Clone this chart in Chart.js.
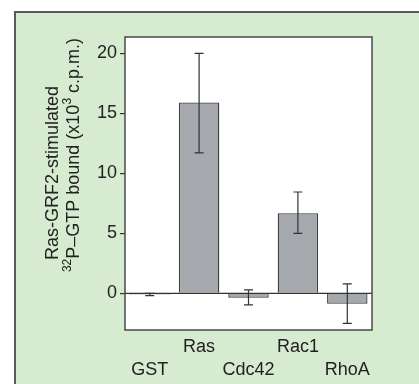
<!DOCTYPE html>
<html>
<head>
<meta charset="utf-8">
<script src="https://cdn.jsdelivr.net/npm/chart.js@4"></script>
<style>
  html, body { margin: 0; padding: 0; background: #ffffff; }
  #wrap { position: relative; width: 419px; height: 384px; overflow: hidden; }
  #panel { position: absolute; left: 14px; top: 11px; right: 0; bottom: 0;
           background: #d7ebd0; border-left: 2px solid #5a5a5a; border-top: 2px solid #5a5a5a; }
  #chart { position: absolute; left: 0; top: 0; }
</style>
</head>
<body>
<div id="wrap">
  <div id="panel"></div>
  <canvas id="chart" width="419" height="384"></canvas>
</div>
<script>
// staggered labels: top row / bottom row
const categories = [['', 'GST'], ['Ras', ''], ['', 'Cdc42'], ['Rac1', ''], ['', 'RhoA']];
const values = [-0.1, 15.9, -0.37, 6.67, -0.87];
const errLow = [-0.2, 11.7, -0.97, 5.0, -2.5];
const errHigh = [0.0, 20.0, 0.28, 8.44, 0.78];
const yTicks = [0, 5, 10, 15, 20];
// y title, second line split into normal / superscript pieces
const yTitleLine1 = 'Ras-GRF2-stimulated';
const yTitleLine2 = [['32', true], ['P\u2013GTP bound (x10', false], ['3', true], [' c.p.m.)', false]];

const ink = '#222222';
const family = "'Liberation Sans', Arial, sans-serif";

// white plot box, zero line, frame and error bars
const plotDecor = {
  id: 'plotDecor',
  beforeDatasetsDraw(chart) {
    const { ctx, chartArea: a } = chart;
    ctx.save();
    ctx.fillStyle = '#ffffff';
    ctx.fillRect(a.left, a.top, a.right - a.left, a.bottom - a.top);
    ctx.restore();
  },
  afterDatasetsDraw(chart) {
    const { ctx, chartArea: a, scales: { x, y } } = chart;
    ctx.save();
    ctx.strokeStyle = '#333333';
    ctx.lineWidth = 1.3;
    const y0 = y.getPixelForValue(0);
    ctx.beginPath();
    ctx.moveTo(a.left, y0);
    ctx.lineTo(a.right, y0);
    ctx.stroke();

    ctx.lineWidth = 1.2;
    errLow.forEach((lo, i) => {
      const cx = x.getPixelForValue(i);
      const yl = y.getPixelForValue(lo);
      const yh = y.getPixelForValue(errHigh[i]);
      ctx.beginPath();
      ctx.moveTo(cx, yl); ctx.lineTo(cx, yh);
      ctx.moveTo(cx - 4.5, yl); ctx.lineTo(cx + 4.5, yl);
      ctx.moveTo(cx - 4.5, yh); ctx.lineTo(cx + 4.5, yh);
      ctx.stroke();
    });

    ctx.strokeStyle = '#4a4a4a';
    ctx.lineWidth = 1.5;
    ctx.strokeRect(a.left, a.top, a.right - a.left, a.bottom - a.top);
    ctx.restore();
  },
  afterDraw(chart) {
    const { ctx } = chart;
    const big = '18px ' + family, small = '12px ' + family;
    ctx.save();
    ctx.fillStyle = ink;
    ctx.textBaseline = 'middle';
    // line 1
    ctx.save();
    ctx.translate(53, 173);
    ctx.rotate(-Math.PI / 2);
    ctx.font = big;
    ctx.textAlign = 'center';
    ctx.fillText(yTitleLine1, 0, 0);
    ctx.restore();
    // line 2 with superscripts
    ctx.save();
    ctx.translate(74, 155);
    ctx.rotate(-Math.PI / 2);
    ctx.textAlign = 'left';
    let total = 0;
    yTitleLine2.forEach(([t, sup]) => { ctx.font = sup ? small : big; total += ctx.measureText(t).width; });
    let px = -total / 2;
    yTitleLine2.forEach(([t, sup]) => {
      ctx.font = sup ? small : big;
      ctx.fillText(t, px, sup ? -6 : 0);
      px += ctx.measureText(t).width;
    });
    ctx.restore();
    ctx.restore();
  }
};

new Chart(document.getElementById('chart'), {
  type: 'bar',
  data: {
    labels: categories,
    datasets: [{
      data: values,
      backgroundColor: '#a5a8ac',
      borderColor: '#3c3c3c',
      borderWidth: 1.3,
      barPercentage: 0.9,
      categoryPercentage: 0.91
    }]
  },
  options: {
    responsive: false,
    animation: false,
    layout: { padding: { left: 0, top: 37, right: 47, bottom: 0 } },
    plugins: { legend: { display: false }, tooltip: { enabled: false } },
    scales: {
      x: {
        grid: { display: false },
        border: { display: false },
        ticks: {
          color: ink,
          padding: -3,
          maxRotation: 0,
          autoSkip: false,
          font: { family: family, size: 18, lineHeight: 1.3 }
        },
        afterFit(scale) { scale.height = 54; }
      },
      y: {
        min: -3.06,
        max: 21.36,
        afterBuildTicks(scale) { scale.ticks = yTicks.map(v => ({ value: v })); },
        grid: { drawOnChartArea: false, drawTicks: true, tickLength: 5, color: '#333333', lineWidth: 1.2 },
        border: { display: false },
        ticks: {
          color: ink,
          padding: 3,
          font: { family: family, size: 18 }
        },
        afterFit(scale) { scale.width = 125; }
      }
    }
  },
  plugins: [plotDecor]
});
</script>
</body>
</html>
